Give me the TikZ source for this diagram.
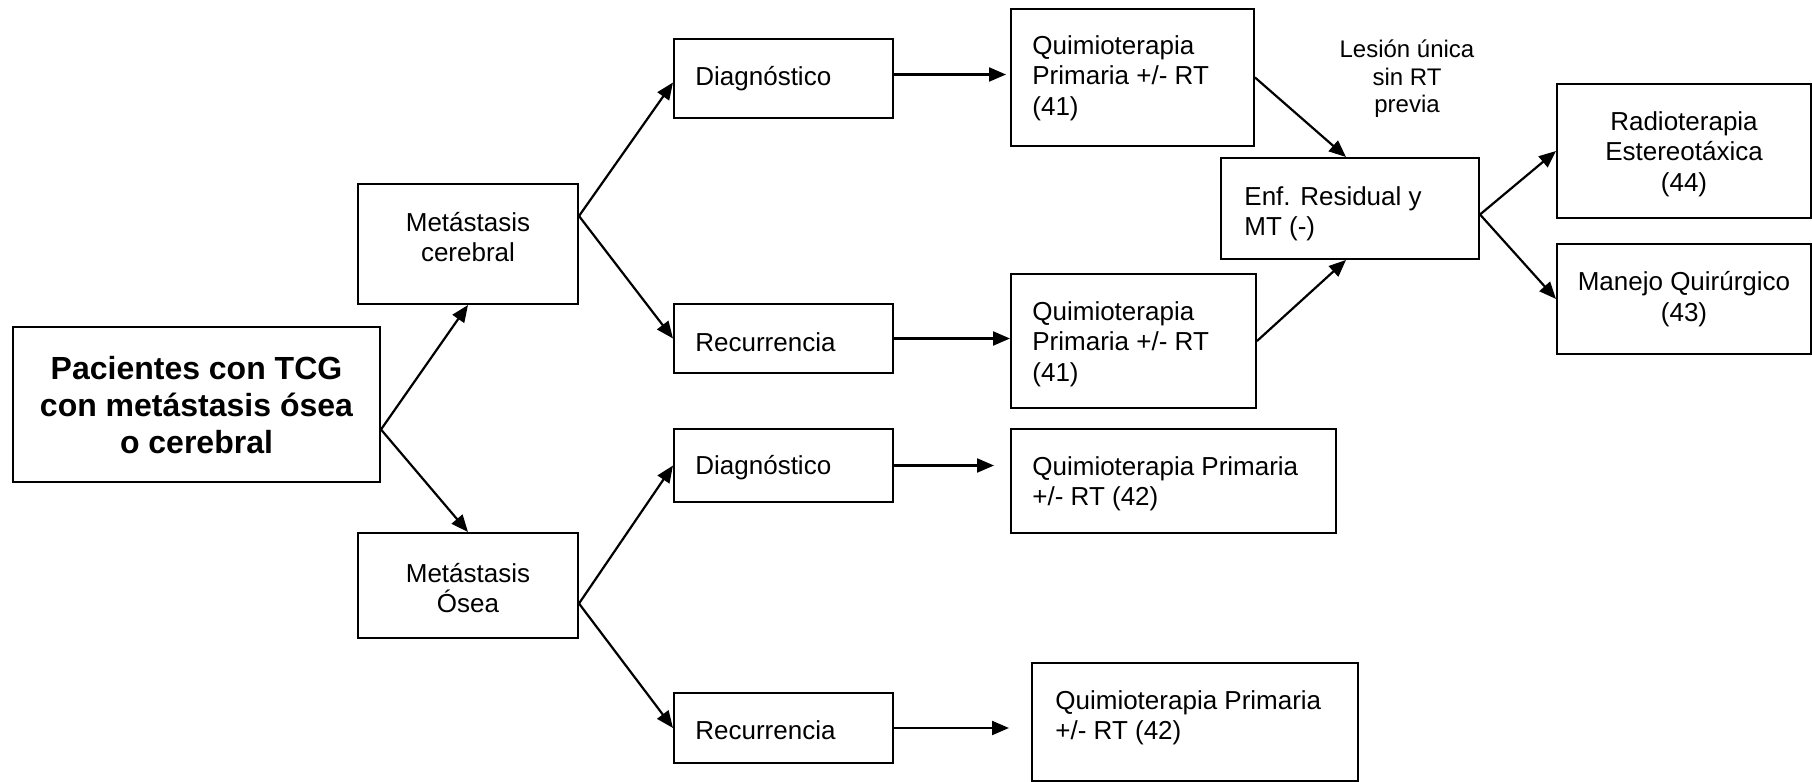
\documentclass[tikz,border=0pt]{standalone}
\usepackage{fontspec}
\setmainfont{Liberation Sans}
\usetikzlibrary{arrows.meta,fit,calc}
\begin{document}
\begin{tikzpicture}[x=0.5pt,y=-0.5pt,
  box/.style={draw, line width=1pt, inner sep=0pt},
  txt/.style={inner sep=0pt, font=\fontsize{13pt}{15.2pt}\selectfont},
  ltxt/.style={txt, anchor=west, align=left},
  btxt/.style={txt, anchor=base west},
  ctxt/.style={txt, align=center},
  arr/.style={line width=1.1pt, -{Triangle[length=8.5pt,width=7pt]}}]
\useasboundingbox (0,0) rectangle (1812,782);

% boxes
\node[box, fit={(13,327) (380,482)}] (main) {};
\node[box, fit={(358,184) (578,304)}] (mc) {};
\node[box, fit={(358,533) (578,638)}] (mo) {};
\node[box, fit={(674,39) (893,118)}] (d1) {};
\node[box, fit={(674,304) (893,373)}] (r1) {};
\node[box, fit={(674,429) (893,502)}] (d2) {};
\node[box, fit={(674,693) (893,763)}] (r2) {};
\node[box, fit={(1011,9) (1254,146)}] (q1) {};
\node[box, fit={(1011,274) (1256,408)}] (q2) {};
\node[box, fit={(1221,158) (1479,259)}] (enf) {};
\node[box, fit={(1557,84) (1811,218)}] (radio) {};
\node[box, fit={(1557,244) (1811,354)}] (manejo) {};
\node[box, fit={(1011,429) (1336,533)}] (q3) {};
\node[box, fit={(1032,663) (1358,781)}] (q4) {};

% texts
\node[ctxt, font=\bfseries\fontsize{16pt}{18.35pt}\selectfont] (tmain) at (196.5,405) {Pacientes con TCG\\con metástasis ósea\\o cerebral};
\node[ctxt] (tmc) at (468,237) {Metástasis\\cerebral};
\node[ctxt] (tmo) at (468,588) {Metástasis\\Ósea};
\node[btxt] (td1) at (695,85) {Diagnóstico};
\node[btxt] (tr1) at (695,351) {Recurrencia};
\node[btxt] (td2) at (695,474) {Diagnóstico};
\node[btxt] (tr2) at (695,739) {Recurrencia};
\node[ltxt] (tq1) at (1032,78) {Quimioterapia\\Primaria +/- RT\\(41)};
\node[ltxt] (tq2) at (1032,344) {Quimioterapia\\Primaria +/- RT\\(41)};
\node[ltxt] (tenf) at (1244,214) {Enf. Residual y\\MT (-)};
\node[ctxt] (tradio) at (1684,154) {Radioterapia\\Estereotáxica\\(44)};
\node[ctxt] (tmanejo) at (1684,299) {Manejo Quirúrgico\\(43)};
\node[ltxt] (tq3) at (1032,484) {Quimioterapia Primaria\\+/- RT (42)};
\node[ltxt] (tq4) at (1055,718) {Quimioterapia Primaria\\+/- RT (42)};
\node[ctxt, font=\fontsize{12pt}{13.8pt}\selectfont] (tlabel) at (1407,79) {Lesión única\\sin RT\\previa};

% connectors
\draw[arr] ([yshift=-12.5pt]main.east) -- (mc.south);
\draw[arr] ([yshift=-12.5pt]main.east) -- (mo.north);
\draw[arr] ([yshift=14pt]mc.east) -- ([yshift=-2pt]d1.west);
\draw[arr] ([yshift=14pt]mc.east) -- (r1.west);
\draw[arr] ([yshift=-9pt]mo.east) -- (d2.west);
\draw[arr] ([yshift=-9pt]mo.east) -- (r2.west);
\draw[arr, shorten >=2pt] ([yshift=2pt]d1.east) -- ([yshift=2pt]d1.east -| q1.west);
\draw[arr] (r1.east) -- (r1.east -| q2.west);
\draw[arr, shorten >=8pt] (d2.east) -- (d2.east -| q3.west);
\draw[arr, shorten >=11pt] (r2.east) -- (r2.east -| q4.west);
\draw[arr] (q1.east) -- ([xshift=-2pt]enf.north);
\draw[arr] (q2.east) -- ([xshift=-2pt]enf.south);
\draw[arr] ([yshift=-3pt]enf.east) -- (radio.west);
\draw[arr] ([yshift=-3pt]enf.east) -- (manejo.west);
\end{tikzpicture}
\end{document}
